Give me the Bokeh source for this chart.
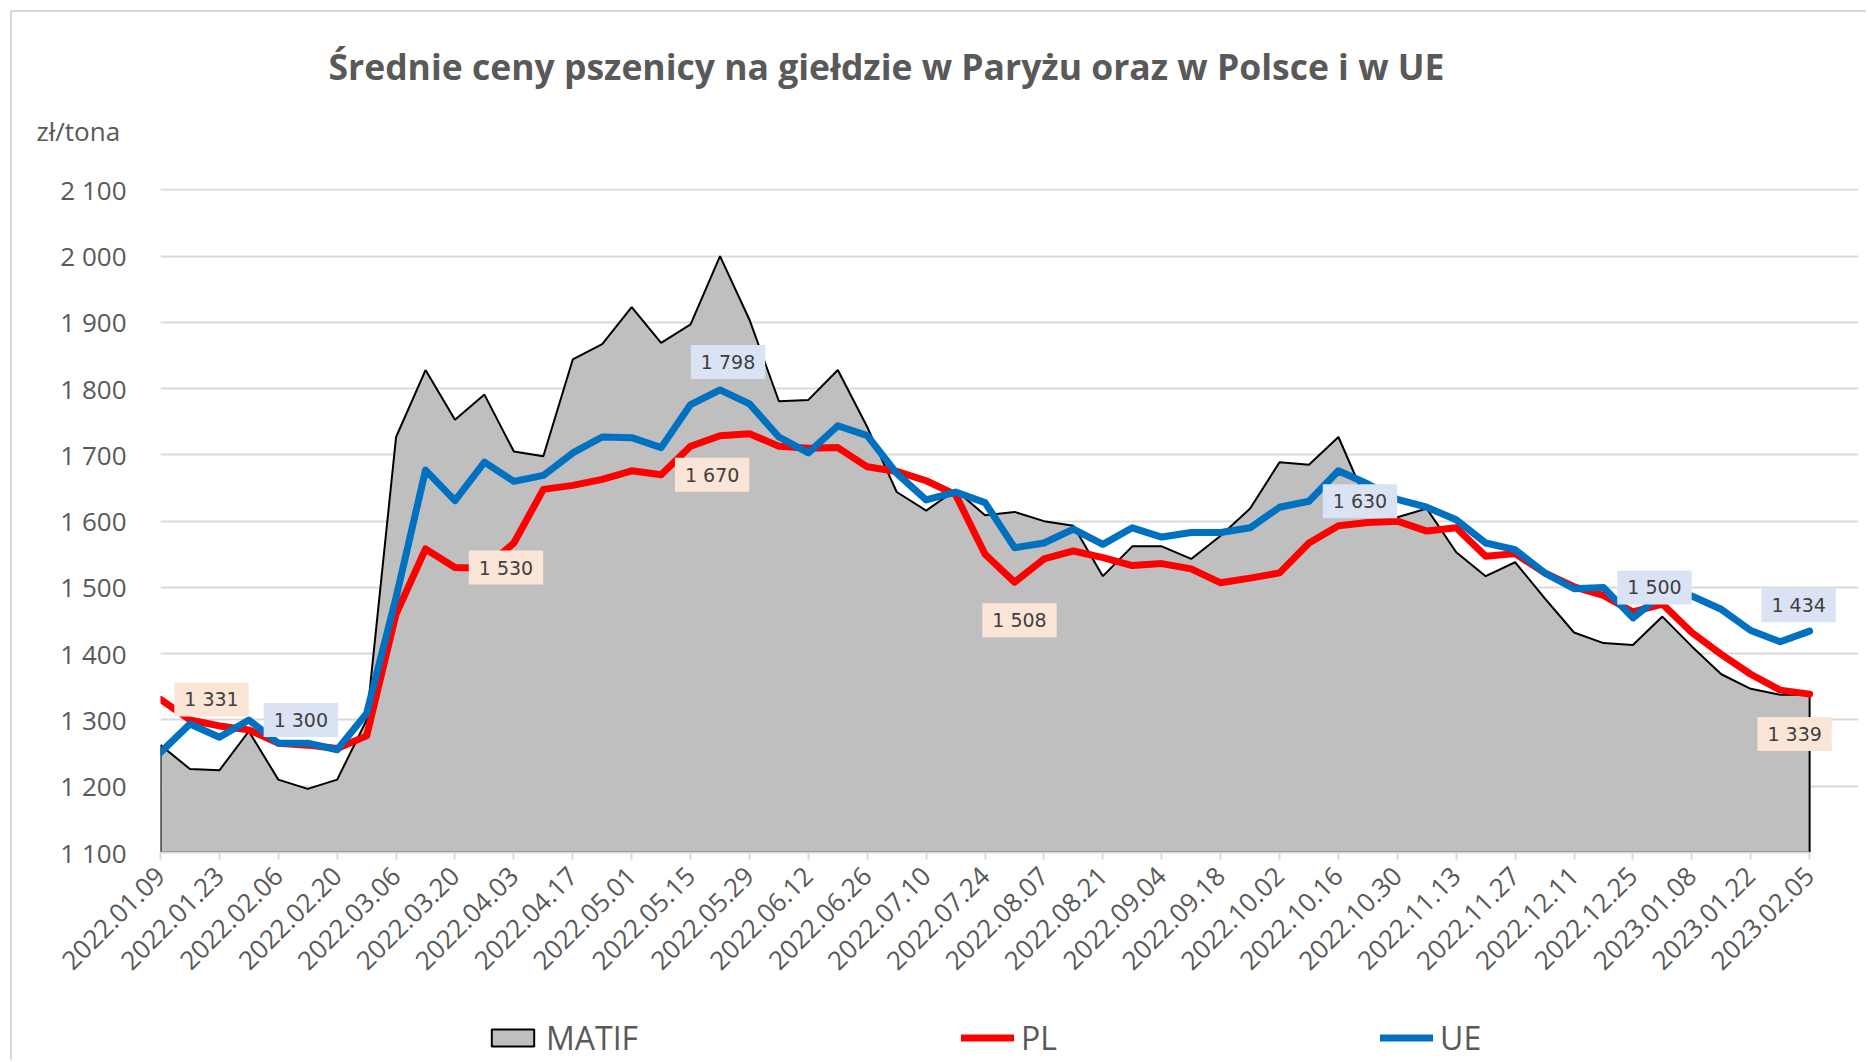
import math
from bokeh.plotting import figure
from bokeh.layouts import column
from bokeh.models import FixedTicker, Label, Legend, LegendItem, Title
from bokeh.embed import file_html
from bokeh.resources import INLINE

# ---------------- data ----------------
tick_labels = ["2022.01.09", "2022.01.23", "2022.02.06", "2022.02.20", "2022.03.06",
               "2022.03.20", "2022.04.03", "2022.04.17", "2022.05.01", "2022.05.15",
               "2022.05.29", "2022.06.12", "2022.06.26", "2022.07.10", "2022.07.24",
               "2022.08.07", "2022.08.21", "2022.09.04", "2022.09.18", "2022.10.02",
               "2022.10.16", "2022.10.30", "2022.11.13", "2022.11.27", "2022.12.11",
               "2022.12.25", "2023.01.08", "2023.01.22", "2023.02.05"]

matif = [1262, 1226, 1224, 1283, 1210, 1196, 1210, 1300, 1727, 1828,
         1753, 1791, 1705, 1698, 1844, 1867, 1923, 1869, 1897, 2000,
         1904, 1781, 1783, 1828, 1742, 1644, 1616, 1647, 1609, 1614,
         1600, 1593, 1517, 1562, 1562, 1543, 1578, 1619, 1689, 1685,
         1727, 1625, 1606, 1619, 1553, 1517, 1538, 1484, 1432, 1416,
         1413, 1456, 1411, 1369, 1347, 1338, 1338]

pl = [1331, 1300, 1291, 1285, 1265, 1262, 1257, 1276, 1460, 1558,
      1530, 1529, 1567, 1648, 1654, 1663, 1676, 1670, 1713, 1729,
      1732, 1713, 1710, 1711, 1682, 1675, 1661, 1640, 1550, 1508,
      1543, 1555, 1545, 1533, 1536, 1528, 1507, 1514, 1522, 1567,
      1593, 1598, 1600, 1585, 1590, 1547, 1551, 1522, 1501, 1488,
      1463, 1475, 1432, 1399, 1369, 1345, 1339]

ue = [1251, 1294, 1274, 1300, 1265, 1265, 1255, 1310, 1485, 1677,
      1631, 1689, 1660, 1669, 1703, 1727, 1726, 1711, 1776, 1798,
      1777, 1727, 1703, 1744, 1729, 1672, 1632, 1644, 1628, 1560,
      1567, 1588, 1565, 1590, 1576, 1583, 1583, 1590, 1621, 1630,
      1676, 1656, 1633, 1621, 1602, 1567, 1557, 1522, 1498, 1500,
      1454, 1490, 1487, 1467, 1435, 1418, 1434]

y_ticks = [1100, 1200, 1300, 1400, 1500, 1600, 1700, 1800, 1900, 2000, 2100]
y_tick_labels = ["1 100", "1 200", "1 300", "1 400", "1 500", "1 600",
                 "1 700", "1 800", "1 900", "2 000", "2 100"]

series_names = ["MATIF", "PL", "UE"]
title_text = "Średnie ceny pszenicy na giełdzie w Paryżu oraz w Polsce i w UE"
unit_text = "zł/tona"

# labelled points: week indices
pl_labelled = [0, 10, 17, 29, 56]
ue_labelled = [3, 19, 39, 49, 56]

# ---------------- styling / layout ----------------
GRAY_TXT = "#595959"
GRID = "#d9d9d9"
MATIF_FILL = "#bfbfbf"
PL_COLOR = "#ff0000"
UE_COLOR = "#0070c0"
week = list(range(len(matif)))
n = len(matif) - 1
x_end = n + 1.66   # room on the right for the end labels

p = figure(width=1854, height=990, output_backend="svg", toolbar_location=None,
           x_range=(0, x_end), y_range=(y_ticks[0], y_ticks[-1] + 2),
           min_border_left=148, min_border_right=8, min_border_top=176,
           min_border_bottom=150, background_fill_color="white",
           border_fill_color="white")
p.outline_line_color = None

area_x = [week[0]] + week + [week[-1]]
area_y = [y_ticks[0]] + matif + [y_ticks[0]]
p.patch(area_x, area_y, fill_color=MATIF_FILL, line_color="black", line_width=2)
p.line(week, pl, line_color=PL_COLOR, line_width=7, line_join="round", line_cap="round")
p.line(week, ue, line_color=UE_COLOR, line_width=7, line_join="round", line_cap="round")

# axes
p.xaxis.ticker = FixedTicker(ticks=list(range(0, n + 1, 2)))
p.xaxis.major_label_overrides = {2 * i: t for i, t in enumerate(tick_labels)}
p.xaxis.major_label_orientation = math.pi / 4
p.xaxis.bounds = (0, n)
p.xaxis.minor_tick_line_color = None
p.xaxis.major_tick_in = 0
p.xaxis.major_tick_out = 7
p.xaxis.major_tick_line_color = GRID
p.xaxis.major_tick_line_width = 2
p.xaxis.axis_line_color = GRID
p.xaxis.axis_line_width = 2
p.xaxis.major_label_text_font = "Open Sans"
p.xaxis.major_label_text_font_size = "26px"
p.xaxis.major_label_text_color = GRAY_TXT
p.xaxis.major_label_standoff = 12

p.yaxis.ticker = FixedTicker(ticks=y_ticks)
p.yaxis.major_label_overrides = {v: t for v, t in zip(y_ticks, y_tick_labels)}
p.yaxis.axis_line_color = None
p.yaxis.major_tick_line_color = None
p.yaxis.minor_tick_line_color = None
p.yaxis.major_label_text_font = "Open Sans"
p.yaxis.major_label_text_font_size = "26px"
p.yaxis.major_label_text_color = GRAY_TXT
p.yaxis.major_label_standoff = 28

p.xgrid.visible = False
p.ygrid.ticker = FixedTicker(ticks=y_ticks)
p.ygrid.bounds = (0, n)
p.ygrid.grid_line_color = GRID
p.ygrid.grid_line_width = 2

# title and unit (side panel titles)
p.title.text = title_text
p.title.align = "left"
p.title.offset = 168
p.title.text_font = "Open Sans"
p.title.text_font_style = "bold"
p.title.text_font_size = "35.5px"
p.title.text_color = GRAY_TXT
p.title.standoff = -39
unit_title = Title(text=unit_text, align="left", offset=-124, text_font="Open Sans",
                   text_font_style="normal", text_font_size="26px", text_color=GRAY_TXT,
                   standoff=80)
p.add_layout(unit_title, "above")

# data labels
def fmt(v):
    return f"{v:,}".replace(",", " ")

pl_offsets = {0: (51, 0), 10: (51, 0), 17: (51, 0), 29: (5, -38), 56: (-15, -40)}
ue_offsets = {3: (52, 0), 19: (8, 28), 39: (51, 0), 49: (51, 0), 56: (-11, 26)}

for i in pl_labelled:
    dx, dy = pl_offsets[i]
    p.add_layout(Label(x=week[i], y=pl[i], x_offset=dx, y_offset=dy, text=fmt(pl[i]),
                       text_font="DejaVu Sans", text_font_size="19px", text_color="#404040",
                       text_align="center", text_baseline="middle",
                       background_fill_color="#fbe5d6", padding=(10, 6)))
for i in ue_labelled:
    dx, dy = ue_offsets[i]
    p.add_layout(Label(x=week[i], y=ue[i], x_offset=dx, y_offset=dy, text=fmt(ue[i]),
                       text_font="DejaVu Sans", text_font_size="19px", text_color="#404040",
                       text_align="center", text_baseline="middle",
                       background_fill_color="#dae3f3", padding=(10, 6)))

# ---------------- legend strip ----------------
# same series drawn again, but outside this strip's visible range: only their legend swatches show
pl_leg = figure(width=1854, height=58, output_backend="svg", toolbar_location=None,
                x_range=(0, 1), y_range=(0, 1), min_border=0,
                x_axis_location=None, y_axis_location=None,
                background_fill_color="white", border_fill_color="white")
pl_leg.outline_line_color = None
pl_leg.grid.visible = False
g_area = pl_leg.patch(area_x, area_y, fill_color=MATIF_FILL, line_color="black", line_width=2)
g_pl = pl_leg.line(week, pl, line_color=PL_COLOR, line_width=7, line_cap="round")
g_ue = pl_leg.line(week, ue, line_color=UE_COLOR, line_width=7, line_cap="round")

legend = Legend(items=[LegendItem(label=series_names[0], renderers=[g_area]),
                       LegendItem(label=series_names[1], renderers=[g_pl]),
                       LegendItem(label=series_names[2], renderers=[g_ue])],
                orientation="horizontal", location=(326, 1), spacing=323,
                glyph_width=53, glyph_height=21, label_standoff=7, padding=0, margin=0,
                border_line_color=None, background_fill_alpha=0,
                label_text_font="Open Sans", label_text_font_size="32px",
                label_text_color=GRAY_TXT)
pl_leg.add_layout(legend)

layout = column(p, pl_leg, spacing=0,
                styles={"margin-left": "10px", "margin-top": "10px",
                        "border-top": "2px solid #d9d9d9",
                        "border-left": "2px solid #d9d9d9"})

open("out.html", "w").write(file_html(layout, INLINE))
